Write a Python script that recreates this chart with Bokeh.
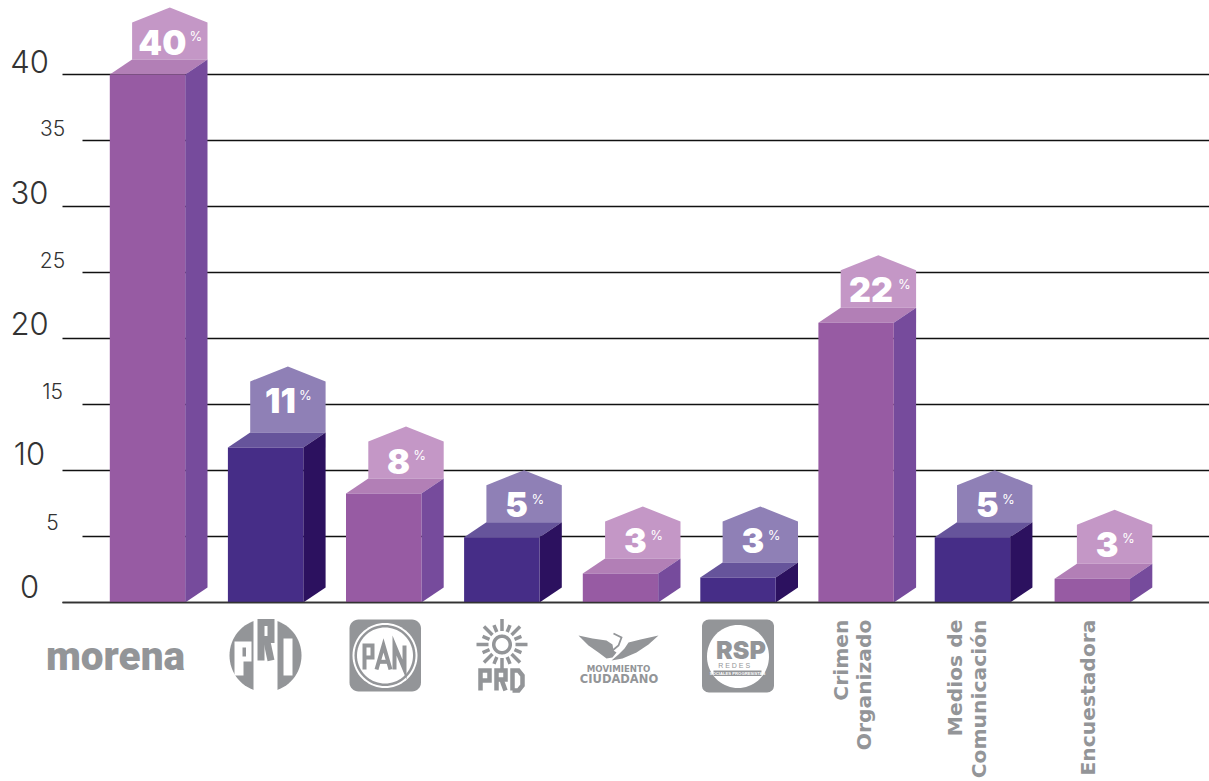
import math
from bokeh.plotting import figure
from bokeh.core.properties import value
from bokeh.embed import file_html
from bokeh.resources import INLINE

categories = ["morena", "PRI", "PAN", "PRD", "Movimiento Ciudadano", "RSP",
              "Crimen Organizado", "Medios de Comunicación", "Encuestadora"]
heights = [40, 11.75, 8.25, 4.95, 2.2, 1.9, 21.2, 4.95, 1.8]
labels = ["40", "11", "8", "5", "3", "3", "22", "5", "3"]
schemes = ["p", "d", "p", "d", "p", "d", "p", "d", "p"]
slots = [0, 1, 2, 3, 4.005, 5, 6, 6.985, 8.0]
major_ticks = [0, 10, 20, 30, 40]
minor_ticks = [5, 15, 25, 35]

PALETTE = {
    "p": dict(front="#975BA3", side="#764B9C", top="#B27FB6", tag="#C497C6"),
    "d": dict(front="#462D87", side="#2C115F", top="#66549B", tag="#8F80B6"),
}
GREY = "#939598"
DARK = "#111111"
TAG_PX = [37, 51, 37, 37, 37, 41, 37.5, 37, 39]
LIFT_MAJOR = {0: 16, 10: 17, 20: 15, 30: 14, 40: 13}
LIFT_MINOR = {5: 15, 15: 14, 25: 13, 35: 13}

SLOT = 118.1
X0 = 147.0
PXU = 13.2
Y0 = 602.0
def X(px): return (px - X0) / SLOT
def Y(py): return (Y0 - py) / PXU
def W(px): return px / SLOT
def H(px): return px / PXU

p = figure(width=1209, height=781, x_range=(X(0), X(1209)), y_range=(Y(781), Y(0)),
           output_backend="svg", toolbar_location=None, min_border=0,
           outline_line_color=None, background_fill_color="white")
p.xaxis.visible = False
p.yaxis.visible = False
p.grid.visible = False

for t in major_ticks:
    p.line([X(62), X(1209)], [t, t], line_color=DARK, line_width=1.3)
for t in minor_ticks:
    p.line([X(82), X(1209)], [t, t], line_color=DARK, line_width=1.3)

AX_FONT = value("'Montserrat Light','Inter Light','Lato Light','Roboto Light','Open Sans Light','Noto Sans Light',Inter")
for t in major_ticks:
    p.text([X(29)], [t], text=[str(t)], text_font=AX_FONT, text_font_size="31px", text_color="#333333",
           text_align="center", text_baseline="middle", y_offset=-LIFT_MAJOR[t])
for t in minor_ticks:
    p.text([X(52)], [t], text=[str(t)], text_font=AX_FONT, text_font_size="21px", text_color="#333333",
           text_align="center", text_baseline="middle", y_offset=-LIFT_MINOR[t])

hw = W(37.7)
dx = W(22.3)
dy = H(15)
apex = H(15)
NUM_FONT = value("'Montserrat Black','Inter Black','Roboto Black','Lato Black','Noto Sans Black','DejaVu Sans'")
for i, h, lab, s, tp in zip(slots, heights, labels, schemes, TAG_PX):
    c = PALETTE[s]
    tag_h = H(tp)
    l, r = i - hw, i + hw
    p.patch([l + dx, l + dx, (l + r) / 2 + dx, r + dx, r + dx],
            [h + dy, h + dy + tag_h, h + dy + tag_h + apex, h + dy + tag_h, h + dy],
            fill_color=c["tag"], line_color=None)
    p.patch([l, r, r + dx, l + dx], [h, h, h + dy, h + dy], fill_color=c["top"], line_color=None)
    p.patch([r, r + dx, r + dx, r], [0, dy, h + dy, h], fill_color=c["side"], line_color=None)
    p.patch([l, r, r, l], [0, 0, h, h], fill_color=c["front"], line_color=None)
    cx = i + dx
    nw = sum(16 if ch == "1" else 24.5 for ch in lab)
    nx = cx - W(7.5)
    ny = h + dy + tag_h - H(19.5)
    p.text([nx], [ny], text=[lab], text_font=NUM_FONT, text_font_style="bold",
           text_font_size="34px", text_color="white", text_align="center", text_baseline="middle")
    p.text([nx + W(nw / 2 + 9)], [ny + H(6)], text=["%"], text_font=value("Inter"),
           text_font_size="13px", text_color="white", text_align="center", text_baseline="middle")

p.line([X(62), X(1209)], [0, 0], line_color="#333333", line_width=1.6)

def poly(pts, color=GREY):
    p.patch([X(a) for a, b in pts], [Y(b) for a, b in pts], fill_color=color, line_color=None)

def ellipse(cx, cy, rx, ry, color=GREY):
    n = 72
    poly([(cx + rx * math.cos(2 * math.pi * k / n), cy + ry * math.sin(2 * math.pi * k / n)) for k in range(n)], color)

def rrect(x0, y0, x1, y1, rad, color=GREY):
    pts = []
    for cx, cy, a0 in [(x1 - rad, y0 + rad, -90), (x1 - rad, y1 - rad, 0), (x0 + rad, y1 - rad, 90), (x0 + rad, y0 + rad, 180)]:
        for k in range(9):
            a = math.radians(a0 + k * 90 / 8)
            pts.append((cx + rad * math.cos(a), cy + rad * math.sin(a)))
    poly(pts, color)

def stroke(segs, color=GREY, width=4.0):
    for seg in segs:
        p.line([X(a) for a, b in seg], [Y(b) for a, b in seg], line_color=color, line_width=width,
               line_join="miter", line_cap="butt")

def glyph_P(x, y0, y1, w):
    m = y0 + (y1 - y0) * 0.5
    return [[(x, y1), (x, y0), (x + w, y0), (x + w, m), (x, m)]]

def glyph_R(x, y0, y1, w):
    m = y0 + (y1 - y0) * 0.45
    return [[(x, y1), (x, y0), (x + w, y0), (x + w, m), (x, m)], [(x + w * 0.55, m), (x + w, y1)]]

def glyph_A(x, y0, y1, w):
    b = y0 + (y1 - y0) * 0.68
    return [[(x, y1), (x + w / 2, y0), (x + w, y1)], [(x + w * 0.2, b), (x + w * 0.8, b)]]

def glyph_N(x, y0, y1, w):
    return [[(x, y1), (x, y0), (x + w, y1), (x + w, y0)]]

def glyph_D(x, y0, y1, w):
    return [[(x, y1), (x, y0), (x + w * 0.6, y0), (x + w, y0 + 5), (x + w, y1 - 5), (x + w * 0.6, y1), (x, y1)]]

p.text([X(115)], [Y(655)], text=["morena"], text_font=value("'Noto Sans Black','Roboto Black','Lato Black','Liberation Sans'"), text_font_style="bold",
       text_font_size="40.5px", text_color=GREY, text_align="center", text_baseline="middle")

# PRI
ellipse(265, 655, 36, 36.5)
poly([(253, 617), (277, 617), (277, 693), (253, 693)], "white")
poly([(234, 641), (251, 641), (251, 661), (243, 661), (243, 675), (234, 675)], "white")
poly([(242, 647), (245.5, 647), (245.5, 656), (242, 656)], GREY)
poly([(283, 638), (292, 638), (292, 675), (283, 675)], "white")
stroke(glyph_R(260.5, 622, 660, 10), width=7)

# PAN
rrect(349, 619, 420.5, 691, 9)
ellipse(384.5, 655, 32.5, 32.5, "white")
ellipse(384.5, 655, 30.5, 30.5)
ellipse(384.5, 655, 28, 28, "white")
stroke(glyph_P(364, 645, 669, 8), width=4)
stroke(glyph_A(376, 645, 669, 14), width=4)
stroke(glyph_N(394, 645, 669, 10), width=4)

# PRD
scx, scy = 501.5, 644
for k in range(16):
    a = 2 * math.pi * k / 16
    r0, r1 = 13.5, (25.5 if k % 2 == 0 else 21)
    stroke([[(scx + r0 * math.sin(a), scy - r0 * math.cos(a)), (scx + r1 * math.sin(a), scy - r1 * math.cos(a))]], width=3.5)
ellipse(scx, scy, 10, 10)
ellipse(scx, scy, 6.5, 6.5, "white")
stroke(glyph_P(480, 670, 690, 9), width=4.5)
stroke(glyph_R(496, 670, 690, 9), width=4.5)
stroke(glyph_D(512, 670, 690, 10), width=4.5)

# Movimiento Ciudadano
poly([(578, 635), (592, 638), (606, 640), (612, 644), (613, 650), (616, 652), (612, 657), (606, 658), (598, 652), (588, 645)])
poly([(658, 635), (640, 639), (628, 642), (624, 648), (618, 654), (611, 660), (622, 658), (636, 652), (648, 644)])
stroke([[(613, 633), (621, 637), (618, 645), (612, 650)]], width=1.8)
p.text([X(618)], [Y(668.5)], text=["MOVIMIENTO"], text_font=value("DejaVu Sans"), text_font_style="bold",
       text_font_size="8.6px", text_color=GREY, text_align="center", text_baseline="middle")
p.text([X(618.5)], [Y(678.5)], text=["CIUDADANO"], text_font=value("DejaVu Sans"), text_font_style="bold",
       text_font_size="11.5px", text_color=GREY, text_align="center", text_baseline="middle")

# RSP
rrect(701.5, 619, 773.5, 692, 7)
ellipse(737.5, 656, 31, 31.5, "white")
p.text([X(740.5)], [Y(649)], text=["RSP"], text_font=NUM_FONT, text_font_style="bold",
       text_font_size="25px", text_color=GREY, text_align="center", text_baseline="middle")
p.text([X(737.5)], [Y(665)], text=["R  E  D  E  S"], text_font=value("Liberation Sans"),
       text_font_size="7px", text_color=GREY, text_align="center", text_baseline="middle")
poly([(713, 670), (761, 670), (761, 675.5), (713, 675.5)])
p.text([X(737)], [Y(672.8)], text=["SOCIALES PROGRESISTAS"], text_font=value("Liberation Sans"), text_font_style="bold",
       text_font_size="4.2px", text_color="white", text_align="center", text_baseline="middle")

rot = [("Crimen", 840), ("Organizado", 863), ("Medios de", 954), ("Comunicación", 978), ("Encuestadora", 1087)]
for t, bx in rot:
    p.text([X(bx)], [Y(619)], text=[t], angle=math.pi / 2, text_font=value("DejaVu Sans"), text_font_style="bold",
           text_font_size="20.3px", text_color=GREY, text_align="right", text_baseline="alphabetic")

open("out.html", "w").write(file_html(p, INLINE))
